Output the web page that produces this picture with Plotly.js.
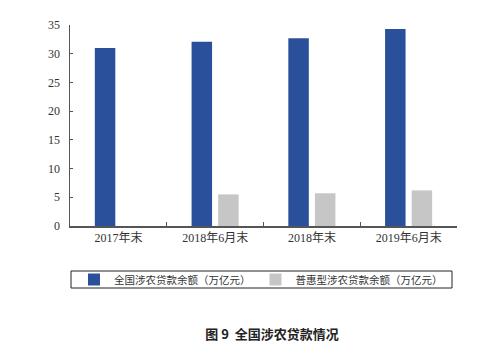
<!DOCTYPE html>
<html>
<head>
<meta charset="utf-8">
<script src="https://cdn.plot.ly/plotly-3.0.1.min.js"></script>
<style>html,body{margin:0;padding:0;background:#fff;}#chart{width:499px;height:362px;}</style>
</head>
<body>
<div id="chart"></div>
<script>
const categories = ["2017年末", "2018年6月末", "2018年末", "2019年6月末"];
const totalLoans = [31.0, 32.1, 32.7, 34.3];
const inclusiveLoans = [null, 5.5, 5.7, 6.2];
const seriesNames = ["全国涉农贷款余额（万亿元）", "普惠型涉农贷款余额（万亿元）"];
const yTicks = [0, 5, 10, 15, 20, 25, 30, 35];
const chartTitle = "<b>图 9  全国涉农贷款情况</b>";

const serif = "'Liberation Serif', 'Times New Roman', 'Noto Sans CJK SC', serif";

const data = [
  {type: "bar", x: categories, y: totalLoans, name: seriesNames[0],
   marker: {color: "#2B509B"}},
  {type: "bar", x: categories, y: inclusiveLoans, name: seriesNames[1],
   marker: {color: "#C6C6C6"}}
];

const layout = {
  width: 499, height: 362,
  margin: {l: 70, r: 42, t: 25, b: 136},
  paper_bgcolor: "#ffffff", plot_bgcolor: "#ffffff",
  barmode: "group", bargap: 0.45, bargroupgap: 0.23,
  font: {family: serif, color: "#333333", size: 12},
  title: {text: chartTitle, x: 272/499, xanchor: "center", xref: "container",
          y: 28/362, yanchor: "middle", yref: "container",
          font: {family: "'Noto Sans CJK SC', sans-serif", size: 13, color: "#222222"}},
  xaxis: {type: "category", showline: true, linecolor: "#555555", linewidth: 1.5,
          ticks: "inside", ticklen: 4, tickcolor: "#555555", tickson: "boundaries",
          showgrid: false, zeroline: false,
          tickfont: {family: serif, size: 12, color: "#333333"}},
  yaxis: {range: [0, 35], tickvals: yTicks, showline: true, linecolor: "#555555",
          linewidth: 1.5, ticks: "inside", ticklen: 3, tickcolor: "#555555",
          showgrid: false, zeroline: false, ticklabelstandoff: 6,
          tickfont: {family: serif, size: 12, color: "#333333"}},
  showlegend: true,
  legend: {orientation: "h", x: 4/387, xanchor: "left", xref: "paper",
           y: -(279.5-226)/201, yanchor: "middle", yref: "paper",
           bgcolor: "rgba(0,0,0,0)", borderwidth: 0,
           itemwidth: 30,
           font: {family: "'Noto Sans CJK SC', serif", size: 10.5, color: "#333333"},
           traceorder: "normal"},
  shapes: [{type: "rect", xref: "paper", yref: "paper",
            x0: (71-70)/387, x1: (452-70)/387,
            y0: -(288-226)/201, y1: -(271-226)/201,
            line: {color: "#222222", width: 1}, fillcolor: "rgba(0,0,0,0)"}]
};

Plotly.newPlot("chart", data, layout, {staticPlot: true, displayModeBar: false});
</script>
</body>
</html>
